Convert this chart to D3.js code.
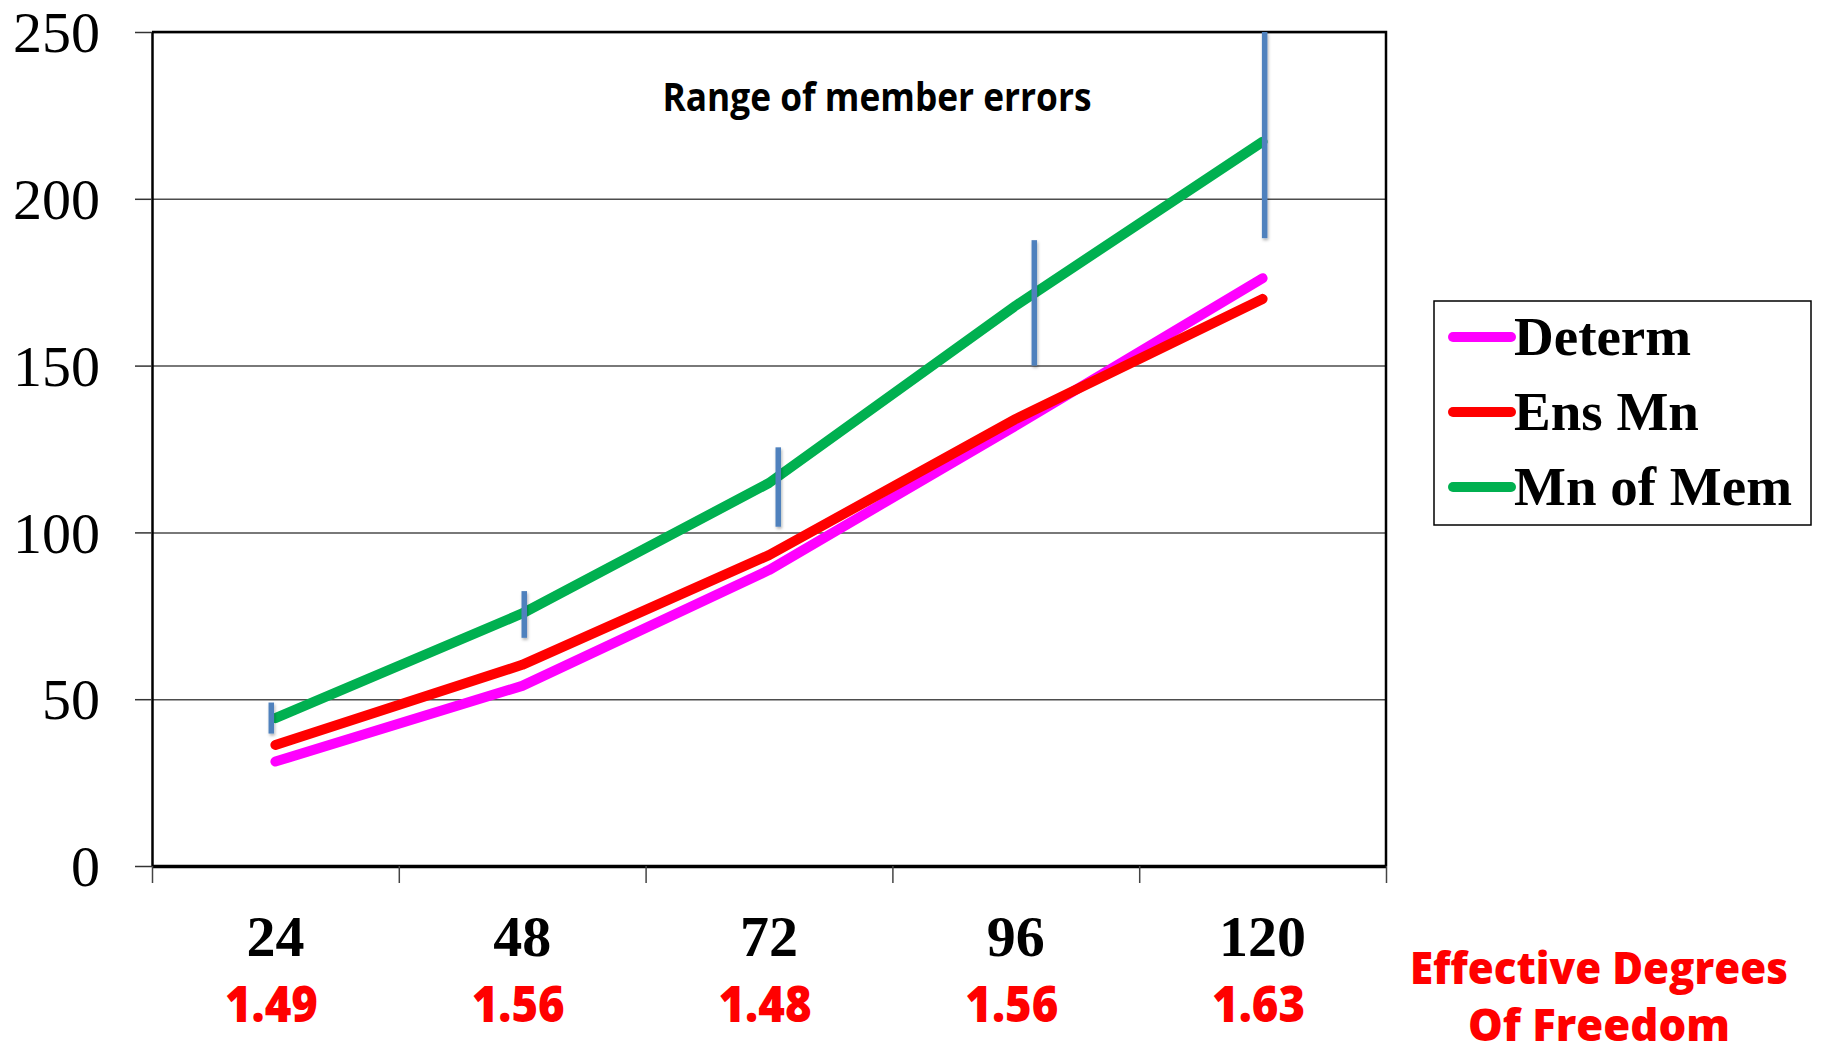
<!DOCTYPE html>
<html>
<head>
<meta charset="utf-8">
<script src="https://cdn.jsdelivr.net/npm/d3@7"></script>
<style>
  body { margin: 0; background: #fff; }
  svg { display: block; }
</style>
</head>
<body>
<div id="chart-area"></div>
<script>

// chart values
const leadHours = ["24", "48", "72", "96", "120"];
const edofLabels = ["1.49", "1.56", "1.48", "1.56", "1.63"];
const yTicks = [0, 50, 100, 150, 200, 250];

const determ  = [31.3, 54.0, 88.7, 132, 176.2];
const ensMn   = [36.3, 60.3, 93.2, 134, 170.0];
const mnOfMem = [44.3, 75.7, 114.8, 168, 217.1];

// range of member errors (vertical bars, drawn by hand in the original so
// they sit a little off the category centres)
const rangeHour = [23.6, 48.2, 72.9, 97.8, 120.2];
const memMin = [39.7, 68.4, 101.7, 150, 188.2];
const memMax = [49.0, 82.4, 125.5, 187.6, 250];

const seriesNames  = ["Determ", "Ens Mn", "Mn of Mem"];
const seriesColors = ["#ff00ff", "#ff0000", "#00b050"];

let margin = {top: 32, right: 438, bottom: 188, left: 152};
let fullW = 1824, fullH = 1054;
let width = fullW - margin.left - margin.right;
let height = fullH - margin.top - margin.bottom;

let svg = d3.select("#chart-area").append("svg")
    .attr("width", fullW)
    .attr("height", fullH);

// soft shadow under the range bars
let defs = svg.append("defs");
defs.append("filter")
    .attr("id", "shadow")
    .attr("filterUnits", "userSpaceOnUse")
    .attr("x", 0).attr("y", 0)
    .attr("width", fullW).attr("height", fullH)
  .append("feDropShadow")
    .attr("dx", 1).attr("dy", 2)
    .attr("stdDeviation", 1.5)
    .attr("flood-color", "#000")
    .attr("flood-opacity", 0.3);

let g = svg.append("g")
    .attr("transform", "translate(" + margin.left + "," + margin.top + ")");

// Scales
let x = d3.scaleBand()
    .domain(leadHours)
    .range([0, width])
    .padding(0);

let cx = d => x(d) + x.bandwidth() / 2;

let xHours = d3.scaleLinear()
    .domain([+leadHours[0], +leadHours[leadHours.length - 1]])
    .range([cx(leadHours[0]), cx(leadHours[leadHours.length - 1])]);

let xEdges = d3.scaleLinear()
    .domain([0, leadHours.length])
    .range([0, width]);

let y = d3.scaleLinear()
    .domain([0, 250])
    .range([height, 0]);

// gridlines
let grid = g.append("g")
    .attr("class", "grid")
    .call(d3.axisLeft(y).tickValues(yTicks).tickSize(-width).tickFormat(""));
grid.select(".domain").remove();
grid.selectAll("line")
    .attr("stroke", "#4d4d4d")
    .attr("stroke-width", 1.5);

// y axis
let yAxis = g.append("g")
    .attr("class", "axis y-axis")
    .call(d3.axisLeft(y).tickValues(yTicks).tickSize(17).tickPadding(35).tickSizeOuter(0));
yAxis.select(".domain")
    .attr("stroke", "#000")
    .attr("stroke-width", 2.5);
yAxis.selectAll(".tick line")
    .attr("stroke", "#333")
    .attr("stroke-width", 1.5);
yAxis.selectAll(".tick text")
    .attr("font-family", "'Liberation Serif', 'Times New Roman', serif")
    .attr("font-size", 58)
    .attr("fill", "#000")
    .attr("dy", "0.34em");

// top and right frame
g.append("path")
    .attr("d", "M0,0H" + width + "V" + height)
    .attr("fill", "none")
    .attr("stroke", "#000")
    .attr("stroke-width", 2.5);

// x axis with ticks on the category boundaries
let xAxis = g.append("g")
    .attr("class", "axis x-axis")
    .attr("transform", "translate(0," + height + ")")
    .call(d3.axisBottom(xEdges).tickValues(d3.range(leadHours.length + 1)).tickSize(17).tickFormat("").tickSizeOuter(0));
xAxis.select(".domain")
    .attr("stroke", "#000")
    .attr("stroke-width", 3.5);
xAxis.selectAll(".tick line")
    .attr("stroke", "#444")
    .attr("stroke-width", 1.5);

// category labels
g.selectAll(".hour-label")
    .data(leadHours)
    .enter().append("text")
    .attr("class", "hour-label")
    .attr("x", d => cx(d))
    .attr("y", height + 90)
    .attr("text-anchor", "middle")
    .attr("font-family", "'Liberation Serif', 'Times New Roman', serif")
    .attr("font-weight", "bold")
    .attr("font-size", 58)
    .text(d => d);

g.selectAll(".edof-label")
    .data(edofLabels)
    .enter().append("text")
    .attr("class", "edof-label")
    .attr("x", (d, i) => cx(leadHours[i]) - 4)
    .attr("y", height + 156)
    .attr("text-anchor", "middle")
    .attr("font-family", "'Open Sans', sans-serif")
    .attr("font-weight", "800")
    .attr("font-size", 50)
    .attr("fill", "#ff0000")
    .attr("textLength", 93)
    .attr("lengthAdjust", "spacingAndGlyphs")
    .text(d => d);

// lines
let line = d3.line()
    .x((d, i) => cx(leadHours[i]))
    .y(d => y(d))
    .curve(d3.curveLinear);

[determ, ensMn, mnOfMem].forEach((vals, k) => {
    g.append("path")
        .datum(vals)
        .attr("class", "line")
        .attr("d", line)
        .attr("fill", "none")
        .attr("stroke", seriesColors[k])
        .attr("stroke-width", 10)
        .attr("stroke-linecap", "round")
        .attr("stroke-linejoin", "round");
});

// member error ranges
let barW = 5.5;
g.selectAll(".range-bar")
    .data(rangeHour)
    .enter().append("rect")
    .attr("class", "range-bar")
    .attr("x", d => xHours(d) - barW / 2)
    .attr("width", barW)
    .attr("y", (d, i) => y(memMax[i]))
    .attr("height", (d, i) => y(memMin[i]) - y(memMax[i]))
    .attr("fill", "#4f81bd")
    .attr("filter", "url(#shadow)");

// annotation
svg.append("text")
    .attr("x", 877)
    .attr("y", 111)
    .attr("text-anchor", "middle")
    .attr("font-family", "'Open Sans', sans-serif")
    .attr("font-weight", "bold")
    .attr("font-size", 39)
    .attr("textLength", 429)
    .attr("lengthAdjust", "spacingAndGlyphs")
    .text("Range of member errors");

// legend
let legend = svg.append("g")
    .attr("transform", "translate(1434,301)");

legend.append("rect")
    .attr("width", 377)
    .attr("height", 224)
    .attr("fill", "#fff")
    .attr("stroke", "#000")
    .attr("stroke-width", 1.5);

let items = legend.selectAll(".legend-item")
    .data(seriesNames)
    .enter().append("g")
    .attr("class", "legend-item")
    .attr("transform", (d, i) => "translate(0," + (36 + i * 75) + ")");

items.append("line")
    .attr("x1", 19)
    .attr("x2", 77)
    .attr("stroke", (d, i) => seriesColors[i])
    .attr("stroke-width", 10)
    .attr("stroke-linecap", "round");

items.append("text")
    .attr("x", 80)
    .attr("y", 18)
    .attr("font-family", "'Liberation Serif', 'Times New Roman', serif")
    .attr("font-weight", "bold")
    .attr("font-size", 55)
    .text(d => d);

// axis title
let title = svg.append("text")
    .attr("text-anchor", "middle")
    .attr("font-family", "'Open Sans', sans-serif")
    .attr("font-weight", "800")
    .attr("font-size", 45)
    .attr("fill", "#ff0000");

title.append("tspan")
    .attr("x", 1599)
    .attr("y", 984)
    .attr("textLength", 378)
    .attr("lengthAdjust", "spacingAndGlyphs")
    .text("Effective Degrees");

title.append("tspan")
    .attr("x", 1599)
    .attr("y", 1041)
    .attr("textLength", 262)
    .attr("lengthAdjust", "spacingAndGlyphs")
    .text("Of Freedom");

</script>
</body>
</html>
